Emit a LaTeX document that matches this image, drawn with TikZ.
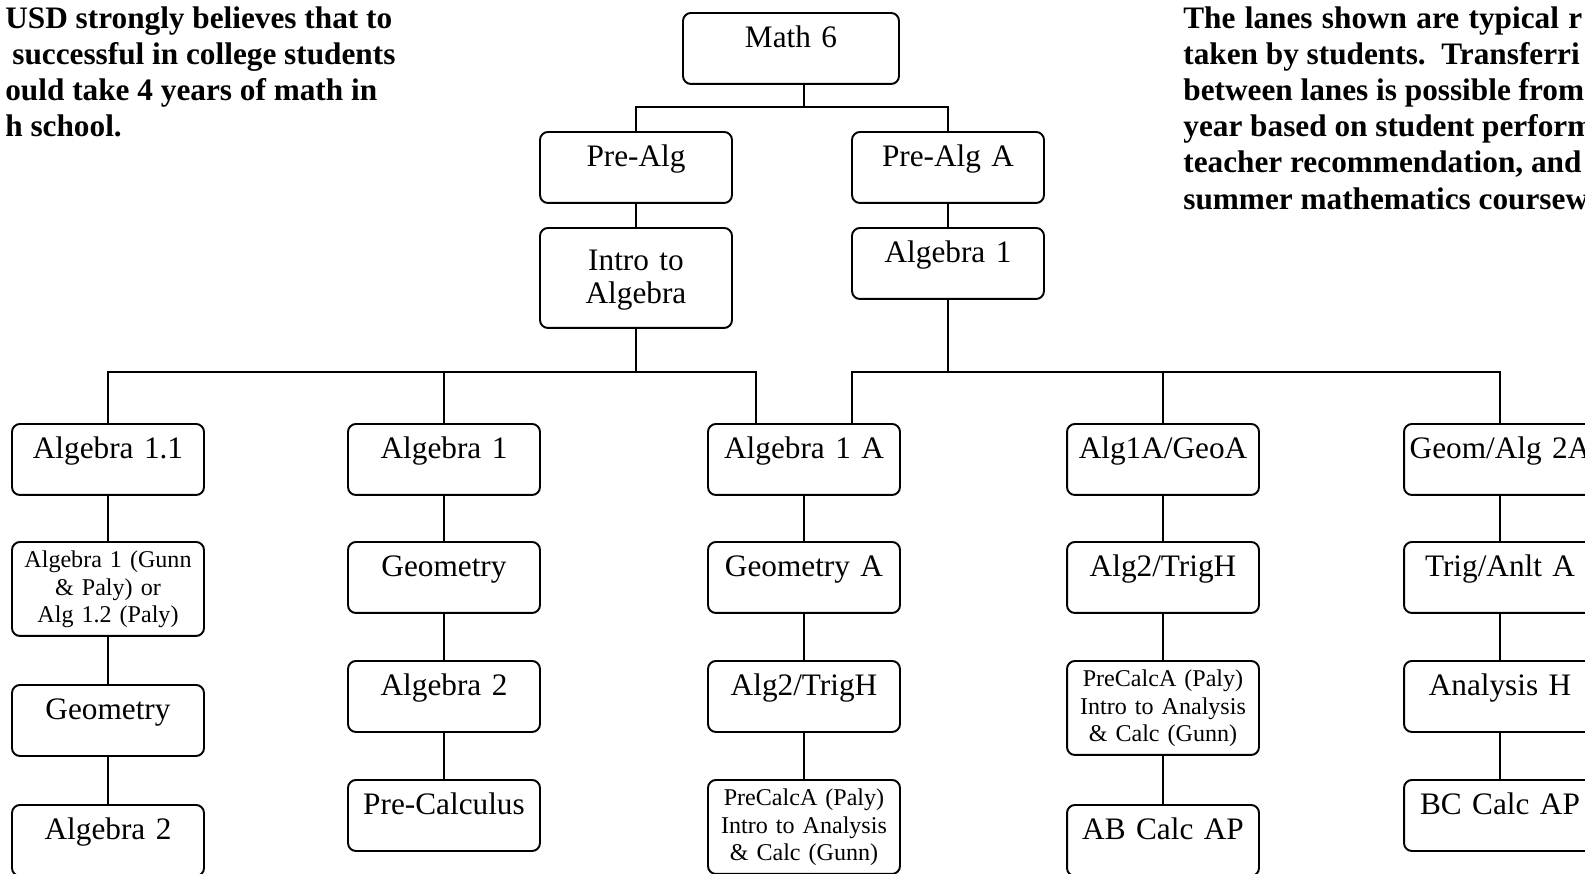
\documentclass[tikz,border=0pt]{standalone}
\usepackage{fontspec}
\setmainfont{Liberation Serif}
\usetikzlibrary{positioning}
\tikzset{
    course/.style={draw, rounded corners=4.5pt, line width=1.1pt, anchor=north,
        text width=3.84cm, align=center, inner xsep=0pt, inner ysep=0pt,
        text height=0.70cm, text depth=0.72cm, font=\fontsize{17.8}{18.4}\selectfont} }
\tikzset{
    smallcourse/.style={course, text height=0.52cm, text depth=1.36cm,
        font=\fontsize{13.7}{15.65}\selectfont} }
\tikzset{
    note/.style={anchor=north west, align=left, inner sep=0pt,
        font=\fontsize{17.8}{20.6}\selectfont\bfseries} }
\tikzset{link/.style={line width=1.1pt}}

\begin{document}
\begin{tikzpicture}[x=0.02cm,y=-0.02cm]
  \clip (0,0) rectangle (1585,873);

  % the two notes
  \node [note] (goal) at (5,6) {USD strongly believes that to\\ \hspace{0.14cm}successful in college students\\ ould take 4 years of math in\\ h school.};
  \node [note] (lanes) at (1183,6) {\makebox[7.98cm][s]{The lanes shown are typical r}\\ taken by students.\ \ Transferri\\ between lanes is possible from\\ year based on student perform\\ teacher recommendation, and\\ summer mathematics coursew};

  % middle school
  \node [course, text width=4.32cm] (m6) at (791,12) {Math 6};
  \node [course] (palg) at (636,131) {Pre-Alg};  \node [course] (palga) at (948,131) {Pre-Alg A};
  \node [course, text height=0.86cm, text depth=1.14cm] (intro) at (636,227) {Intro to\\ Algebra};
  \node [course] (alg) at (948,227) {Algebra 1};

  % high school, one lane per column
  \node [course] (a1) at (108,423) {Algebra 1.1};
  \node [smallcourse] (a2) at (108,541) {Algebra 1 (Gunn\\ \& Paly) or\\ Alg 1.2 (Paly)};
  \node [course] (a3) at (108,684) {Geometry};
  \node [course] (a4) at (108,804) {Algebra 2};

  \node [course] (b1) at (444,423) {Algebra 1};
  \node [course] (b2) at (444,541) {Geometry};
  \node [course] (b3) at (444,660) {Algebra 2};
  \node [course] (b4) at (444,779) {Pre-Calculus};

  \node [course] (c1) at (804,423) {Algebra 1 A};
  \node [course] (c2) at (804,541) {Geometry A};
  \node [course] (c3) at (804,660) {Alg2/TrigH};
  \node [smallcourse] (c4) at (804,779) {PreCalcA (Paly)\\ Intro to Analysis\\ \& Calc (Gunn)};

  \node [course] (d1) at (1163,423) {Alg1A/GeoA};
  \node [course] (d2) at (1163,541) {Alg2/TrigH};
  \node [smallcourse] (d3) at (1163,660) {PreCalcA (Paly)\\ Intro to Analysis\\ \& Calc (Gunn)};
  \node [course] (d4) at (1163,804) {AB Calc AP};

  \node [course] (e1) at (1500,423) {Geom/Alg 2A};
  \node [course] (e2) at (1500,541) {Trig/Anlt A};
  \node [course] (e3) at (1500,660) {Analysis H};
  \node [course] (e4) at (1500,779) {BC Calc AP};

  % connectors
  \coordinate (fork) at (804,107); \coordinate (bus) at (0,372);
  \coordinate (inl) at ([xshift=-0.96cm]c1.north); \coordinate (inr) at ([xshift=0.96cm]c1.north);
  \draw [link] (m6.south -| fork) -- (fork);
  \draw [link] (palg.north) |- (fork) -| (palga.north);
  \draw [link] (palg.south) -- (intro.north); \draw [link] (palga.south) -- (alg.north);
  \draw [link] (intro.south) -- (intro.south |- bus); \draw [link] (alg.south) -- (alg.south |- bus);
  \draw [link] (a1.north) |- (inl |- bus) -- (inl);
  \draw [link] (b1.north) -- (b1.north |- bus);
  \draw [link] (inr) -- (inr |- bus) -| (e1.north);
  \draw [link] (d1.north) -- (d1.north |- bus);
  \foreach \u/\v in {a1/a2,a2/a3,a3/a4,b1/b2,b2/b3,b3/b4,c1/c2,c2/c3,c3/c4,d1/d2,d2/d3,d3/d4,e1/e2,e2/e3,e3/e4}
    \draw [link] (\u.south) -- (\v.north);
\end{tikzpicture}
\end{document}
